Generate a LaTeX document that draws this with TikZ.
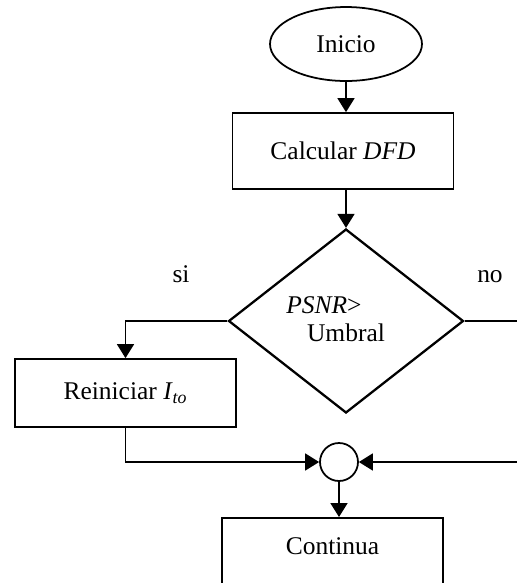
\documentclass[tikz,border=0pt]{standalone}
\usepackage{fontspec}
\setmainfont{Liberation Serif}
\usetikzlibrary{shapes.geometric, arrows.meta}

\begin{document}
\begin{tikzpicture}[x=0.02cm, y=-0.02cm,
  every node/.style={font=\fontsize{14.5}{19}\selectfont},
  caja/.style={rectangle, draw, line width=1pt, minimum width=4.42cm, minimum height=1.52cm},
  flecha/.style={line width=1pt, -{Triangle[length=0.28cm, width=0.34cm]}},
  linea/.style={line width=1pt}]

\useasboundingbox (0,0) rectangle (517,583);
\clip (0,0) rectangle (517,583);

% Inicio y primer paso
\node[ellipse, draw, line width=1pt, minimum width=3.04cm, minimum height=1.48cm] (inicio) at (346,44) {Inicio};
\node[caja] (calc) at (343,151) {Calcular \textit{DFD}};

% Decision sobre el PSNR
\node[diamond, draw, line width=1.3pt, aspect=1.28, inner sep=0pt,
      minimum width=4.7cm, minimum height=3.68cm] (dec) at (346,321)
      {\raisebox{0.12cm}{\begin{tabular}{@{}c@{}}\textit{PSNR}>\hspace*{0.88cm}\\[-3pt]Umbral\end{tabular}}};
\node (si) at (181,274) {si};
\node (no) at (490,277) {no};

% Rama del si
\node[caja, minimum height=1.36cm] (reini) at (125.5,393) {Reiniciar \textit{I}\textsubscript{\textit{to}}};

% Union de ramas y continuacion
\node[circle, draw, line width=1pt, minimum size=0.76cm, inner sep=0pt] (union) at (339,462) {};
\node[rectangle, draw, line width=1pt, minimum width=4.42cm, inner xsep=0pt, inner ysep=0pt,
      text height=0.74cm, text depth=0.9cm, anchor=north] (cont) at (332.5,517) {Continua};

\coordinate (nosale) at (540,321);
\coordinate (noentra) at (540,462);

% Conexiones
\draw[flecha] (inicio.south) -- (inicio.south |- calc.north);
\draw[flecha] (dec.north |- calc.south) -- (dec.north);
\draw[flecha] (dec.west) -| (reini.north);
\draw[flecha] (reini.south) |- (union.west);
\draw[linea] (dec.east) -- (nosale);
\draw[flecha] (noentra) -- (union.east);
\draw[flecha] (union.south) -- (union.south |- cont.north);

\end{tikzpicture}
\end{document}
